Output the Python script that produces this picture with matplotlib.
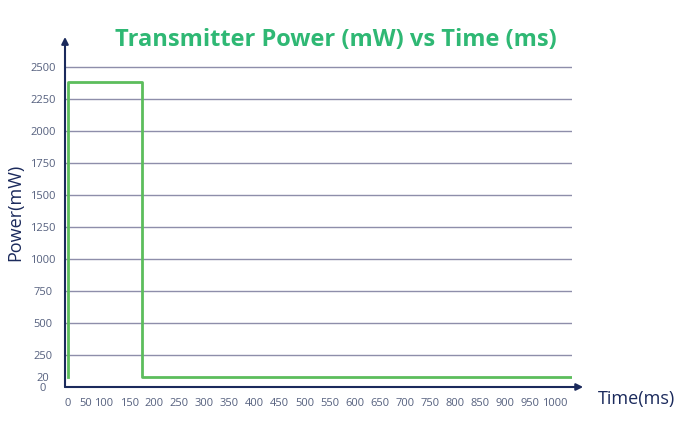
import numpy as np
import matplotlib.pyplot as plt

plt.rcParams['font.family'] = ['Open Sans', 'DejaVu Sans']

# pulse: on from 0 to ~176 ms, then idle level
time_ms = [0, 0, 176, 176, 1034]
power_mw = [20, 2385, 2385, 20, 20]

y_ticks = [0, 20, 250, 500, 750, 1000, 1250, 1500, 1750, 2000, 2250, 2500]
grid_y = [250, 500, 750, 1000, 1250, 1500, 1750, 2000, 2250, 2500]
x_ticks = list(range(0, 1001, 50))

axis_col = '#1b2a5c'
grid_col = '#8e8eaa'
tick_col = '#55607e'
green = '#5cbd5c'
title_col = '#2fb874'


# hand-made chart stretches the low ends a bit
def fy(y):
    y = np.asarray(y, dtype=float)
    return np.where(y < 20, y * 3.9,
                    np.where(y < 250, 78 + (y - 20) * 172 / 230, y))


def fy_inv(v):
    v = np.asarray(v, dtype=float)
    return np.where(v < 78, v / 3.9,
                    np.where(v < 250, 20 + (v - 78) * 230 / 172, v))


def fx(x):
    x = np.asarray(x, dtype=float)
    return np.where(x < 100, 28 + x * 0.72, x)


def fx_inv(v):
    v = np.asarray(v, dtype=float)
    return np.where(v < 100, (v - 28) / 0.72, v)


fig = plt.figure(figsize=(6.95, 4.26), dpi=100)
ax = fig.add_axes([65 / 695, 39 / 426, 507 / 695, 349 / 426])

ax.set_xscale('function', functions=(fx, fx_inv))
ax.set_yscale('function', functions=(fy, fy_inv))
ax.set_xlim(-8.3, 1034)
ax.set_ylim(0, 2727)

for g in grid_y:
    ax.axhline(g, color=grid_col, lw=1, zorder=1)

ax.plot(time_ms, power_mw, color=green, lw=2, zorder=3)

for s in ax.spines.values():
    s.set_visible(False)

# axis arrows
ax.annotate('', xy=(1.022, 0), xytext=(0, 0), xycoords='axes fraction',
            arrowprops=dict(arrowstyle='-|>', color=axis_col, lw=1.5,
                            mutation_scale=10, shrinkA=0, shrinkB=0),
            annotation_clip=False)
ax.annotate('', xy=(0, 1.003), xytext=(0, 0), xycoords='axes fraction',
            arrowprops=dict(arrowstyle='-|>', color=axis_col, lw=1.5,
                            mutation_scale=10, shrinkA=0, shrinkB=0),
            annotation_clip=False)

ax.set_xticks(x_ticks)
ax.set_xticklabels([str(t) for t in x_ticks])
ax.set_yticks(y_ticks)
ax.set_yticklabels([str(t) for t in y_ticks], ha='center')
ax.tick_params(length=0, labelsize=8, colors=tick_col)
ax.tick_params(axis='x', pad=8)
ax.tick_params(axis='y', pad=16)
ax.xaxis.set_minor_locator(plt.NullLocator())
ax.yaxis.set_minor_locator(plt.NullLocator())

ax.set_ylabel('Power(mW)', fontsize=13, color=axis_col, labelpad=4)
fig.text(598 / 695, 1 - 399 / 426, 'Time(ms)', fontsize=13, color=axis_col,
         ha='left', va='center')
fig.text(336 / 695, 1 - 40 / 426, 'Transmitter Power (mW) vs Time (ms)',
         fontsize=17, fontweight='bold', color=title_col,
         ha='center', va='center')

fig.savefig('out.png', dpi=100)
